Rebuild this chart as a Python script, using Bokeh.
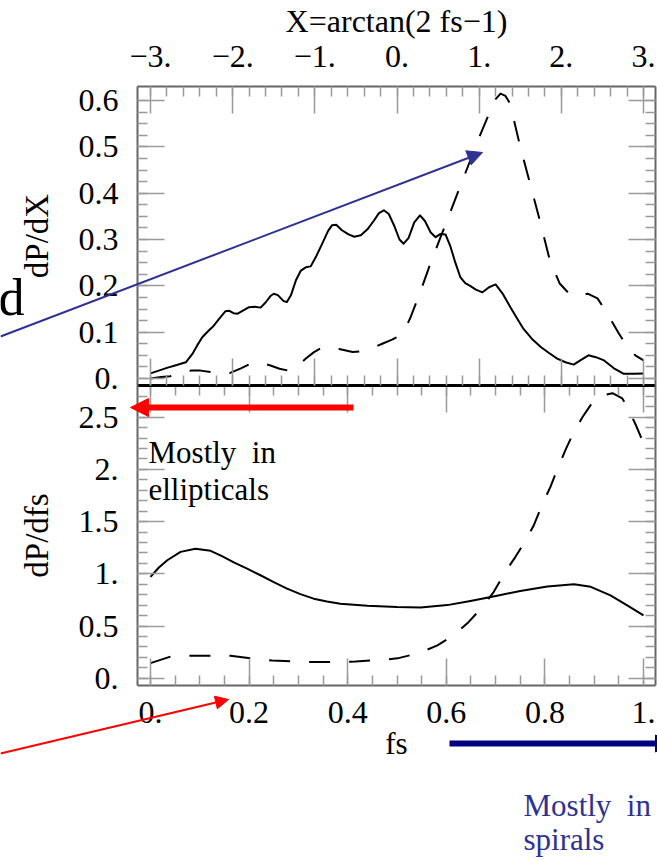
from bokeh.plotting import figure
from bokeh.models import Range1d, LinearAxis, FixedTicker, Arrow, NormalHead, Label
from bokeh.embed import file_html
from bokeh.resources import INLINE

# ---------------- data ----------------
# top panel: X = arctan(2 fs - 1)
top_x_solid = [-3.00, -2.90, -2.80, -2.68, -2.57, -2.49, -2.43, -2.37, -2.30, -2.23, -2.16, -2.09,
               -2.04, -1.99, -1.94, -1.87, -1.80, -1.73, -1.66, -1.60, -1.54, -1.50, -1.45, -1.38,
               -1.34, -1.29, -1.23, -1.17, -1.11, -1.05, -0.98, -0.91, -0.84, -0.79, -0.74, -0.67,
               -0.59, -0.52, -0.44, -0.36, -0.28, -0.22, -0.16, -0.10, -0.03, 0.03, 0.08, 0.14,
               0.21, 0.28, 0.34, 0.41, 0.47, 0.53, 0.59, 0.65, 0.71, 0.77, 0.83, 0.89, 0.96, 1.04,
               1.12, 1.20, 1.29, 1.38, 1.46, 1.54, 1.64, 1.75, 1.85, 1.95, 2.05, 2.15, 2.24, 2.33,
               2.42, 2.52, 2.64, 2.76, 2.88, 3.00]
top_y_solid = [0.011, 0.017, 0.023, 0.029, 0.035, 0.053, 0.072, 0.089, 0.102, 0.114, 0.130, 0.145,
               0.146, 0.141, 0.140, 0.147, 0.154, 0.155, 0.153, 0.164, 0.178, 0.183, 0.180, 0.167,
               0.165, 0.180, 0.212, 0.233, 0.240, 0.242, 0.265, 0.291, 0.318, 0.331, 0.332, 0.320,
               0.311, 0.306, 0.309, 0.322, 0.341, 0.357, 0.363, 0.355, 0.328, 0.300, 0.291, 0.303,
               0.337, 0.352, 0.340, 0.315, 0.305, 0.312, 0.311, 0.285, 0.250, 0.219, 0.206, 0.200,
               0.192, 0.186, 0.197, 0.203, 0.182, 0.154, 0.130, 0.107, 0.086, 0.068, 0.055, 0.043,
               0.035, 0.030, 0.040, 0.050, 0.046, 0.039, 0.022, 0.010, 0.010, 0.011]

top_x_dash = [-3.00, -2.87, -2.76, -2.64, -2.51, -2.39, -2.27, -2.15, -2.03, -1.90, -1.78, -1.66,
              -1.54, -1.43, -1.32, -1.22, -1.11, -1.01, -0.91, -0.80, -0.69, -0.54, -0.42, -0.30,
              -0.18, -0.06, 0.04, 0.10, 0.16, 0.28, 0.40, 0.53, 0.65, 0.77, 0.89, 1.01, 1.14,
              1.20, 1.26, 1.32, 1.37, 1.42, 1.50, 1.62, 1.74, 1.86, 1.98, 2.10, 2.22, 2.32, 2.44,
              2.56, 2.70, 2.81, 2.90, 3.00]
top_y_dash = [0.000, 0.003, 0.005, 0.011, 0.017, 0.017, 0.014, 0.011, 0.012, 0.022, 0.032, 0.034,
              0.028, 0.021, 0.017, 0.025, 0.043, 0.057, 0.067, 0.066, 0.063, 0.057, 0.059, 0.066,
              0.075, 0.084, 0.093, 0.108, 0.130, 0.185, 0.245, 0.305, 0.360, 0.415, 0.470, 0.525,
              0.580, 0.603, 0.615, 0.610, 0.595, 0.560, 0.500, 0.420, 0.340, 0.255, 0.205, 0.182,
              0.178, 0.183, 0.173, 0.140, 0.097, 0.067, 0.050, 0.039]

# bottom panel: fs
bot_x_solid = [0.000, 0.017, 0.034, 0.061, 0.091, 0.122, 0.145, 0.169, 0.196, 0.223, 0.250, 0.277,
               0.304, 0.331, 0.358, 0.385, 0.440, 0.500, 0.548, 0.602, 0.649, 0.703, 0.750, 0.805,
               0.859, 0.893, 0.933, 0.967, 1.000]
bot_y_solid = [0.97, 1.06, 1.13, 1.21, 1.24, 1.22, 1.17, 1.11, 1.05, 0.986, 0.92, 0.858, 0.805,
               0.762, 0.735, 0.714, 0.695, 0.681, 0.678, 0.700, 0.740, 0.790, 0.835, 0.878, 0.899,
               0.875, 0.794, 0.698, 0.602]

bot_x_dash = [0.000, 0.041, 0.081, 0.124, 0.162, 0.209, 0.247, 0.294, 0.331, 0.379, 0.416, 0.467,
              0.501, 0.544, 0.582, 0.615, 0.645, 0.673, 0.696, 0.714, 0.724, 0.740, 0.761, 0.777,
              0.797, 0.811, 0.821, 0.842, 0.858, 0.876, 0.899, 0.919, 0.937, 0.957, 0.968, 0.984,
              1.000]
bot_y_dash = [0.144, 0.208, 0.215, 0.215, 0.215, 0.186, 0.170, 0.160, 0.154, 0.154, 0.160, 0.175,
              0.19, 0.24, 0.314, 0.41, 0.537, 0.68, 0.825, 0.97, 1.05, 1.16, 1.32, 1.46, 1.69,
              1.83, 1.95, 2.19, 2.35, 2.50, 2.66, 2.71, 2.73, 2.68, 2.59, 2.43, 2.25]

# tick values and labels
top_x_ticks = [-3, -2, -1, 0, 1, 2, 3]
top_x_labels = ["\u22123.", "\u22122.", "\u22121.", "0.", "1.", "2.", "3."]
top_y_ticks = [0, 0.1, 0.2, 0.3, 0.4, 0.5, 0.6]
top_y_labels = ["0.", "0.1", "0.2", "0.3", "0.4", "0.5", "0.6"]
bot_x_ticks = [0, 0.2, 0.4, 0.6, 0.8, 1]
bot_x_labels = ["0.", "0.2", "0.4", "0.6", "0.8", "1."]
bot_y_ticks = [0, 0.5, 1, 1.5, 2, 2.5]
bot_y_labels = ["0.", "0.5", "1.", "1.5", "2.", "2.5"]

top_x_minor = [round(-3 + 0.2 * i, 3) for i in range(31)]
top_y_minor = [round(0.025 * i, 4) for i in range(25)]
bot_x_minor = [round(0.05 * i, 3) for i in range(21)]
bot_y_minor = [round(0.1 * i, 3) for i in range(28)]

FONT = "Liberation Serif"
FRAME = "#666666"
TICK = "#9a9a9a"
W, H = 657, 860

# ---------------- page geometry (pixels) ----------------
# panel frames: x 137..655 ; top panel y 86..385 ; bottom panel y 385..685
# top panel scale: x=-3 at px 150, 82.17 px/unit ; y=0 at py 378, 463.3 px/unit
# bottom panel scale: x=0 at px 150, 493 px/unit ; y=0 at py 677.7, 104.4 px/unit


def tx(px):
    return -3 + (px - 150) / 82.17


def ty(py):
    return (378 - py) / 463.3


def bx(px):
    return (px - 150) / 493


def by(py):
    return (677.7 - py) / 104.4


p = figure(width=W, height=H, x_range=Range1d(0, W), y_range=Range1d(H, 0),
           x_axis_location=None, y_axis_location=None, output_backend="svg",
           toolbar_location=None, min_border=0, title=None)
p.grid.visible = False
p.outline_line_color = None
p.background_fill_color = "white"
p.border_fill_color = "white"

p.extra_x_ranges = {"tx": Range1d(tx(0), tx(W)), "bx": Range1d(bx(0), bx(W))}
p.extra_y_ranges = {"ty": Range1d(ty(H), ty(0)), "by": Range1d(by(H), by(0))}


def style_ticks(ax, major_in, minor_in):
    ax.major_tick_in = major_in
    ax.major_tick_out = 0
    ax.minor_tick_in = minor_in
    ax.minor_tick_out = 0
    ax.major_tick_line_color = TICK
    ax.major_tick_line_width = 1.5
    ax.minor_tick_line_color = TICK
    ax.minor_tick_line_width = 1.5


def labeled_axis(side, xr, yr, loc, bounds, ticks, minor, labels, title, standoff,
                 title_standoff, title_size, line_color=FRAME, line_width=2):
    ax = LinearAxis(ticker=FixedTicker(ticks=ticks, minor_ticks=minor),
                    x_range_name=xr, y_range_name=yr, fixed_location=loc, bounds=bounds)
    style_ticks(ax, 27, 10)
    ax.axis_line_color = line_color
    ax.axis_line_width = line_width
    ax.major_label_overrides = dict(zip(ticks, labels))
    ax.major_label_text_font = FONT
    ax.major_label_text_font_size = "32px"
    ax.major_label_text_color = "black"
    ax.major_label_standoff = standoff
    ax.axis_label = title
    ax.axis_label_text_font = FONT
    ax.axis_label_text_font_style = "normal"
    ax.axis_label_text_font_size = title_size
    ax.axis_label_text_color = "black"
    ax.axis_label_standoff = title_standoff
    p.add_layout(ax, side)


def mirror_axis(side, xr, yr, loc, bounds, ticks, minor, line_color=FRAME, line_width=2):
    # long marks at the major positions (drawn as label-less minor ticks)
    a1 = LinearAxis(ticker=FixedTicker(ticks=[], minor_ticks=ticks),
                    x_range_name=xr, y_range_name=yr, fixed_location=loc, bounds=bounds)
    style_ticks(a1, 27, 27)
    a1.axis_line_color = line_color
    a1.axis_line_width = line_width
    p.add_layout(a1, side)
    a2 = LinearAxis(ticker=FixedTicker(ticks=[], minor_ticks=minor),
                    x_range_name=xr, y_range_name=yr, fixed_location=loc, bounds=bounds)
    style_ticks(a2, 10, 10)
    a2.axis_line_color = None
    p.add_layout(a2, side)


# ---- top panel frame ----
T_L, T_R, T_T, T_B = tx(137), tx(655), ty(86), ty(385)
labeled_axis("above", "tx", "ty", T_T, (T_L, T_R), top_x_ticks, top_x_minor, top_x_labels,
             "X=arctan(2 fs\u22121)", 20, 4, "32px")
labeled_axis("left", "tx", "ty", T_L, (T_B, T_T), top_y_ticks, top_y_minor, top_y_labels,
             "dP/dX", 19, 21, "33px")
mirror_axis("below", "tx", "ty", T_B, (T_L, T_R), top_x_ticks, top_x_minor,
            line_color="black", line_width=3)
mirror_axis("right", "tx", "ty", T_R, (T_B, T_T), top_y_ticks, top_y_minor)

# ---- bottom panel frame ----
B_L, B_R, B_T, B_B = bx(137), bx(655), by(385), by(685)
labeled_axis("below", "bx", "by", B_B, (B_L, B_R), bot_x_ticks, bot_x_minor, bot_x_labels,
             "fs", 16, 0, "31px")
labeled_axis("left", "bx", "by", B_L, (B_B, B_T), bot_y_ticks, bot_y_minor, bot_y_labels,
             "dP/dfs", 19, 21, "33px")
mirror_axis("above", "bx", "by", B_T, (B_L, B_R), bot_x_ticks, bot_x_minor,
            line_color="black", line_width=3)
mirror_axis("right", "bx", "by", B_R, (B_B, B_T), bot_y_ticks, bot_y_minor)

# ---- curves ----
p.line(top_x_solid, top_y_solid, x_range_name="tx", y_range_name="ty",
       line_color="black", line_width=2, line_join="round")
p.line(top_x_dash, top_y_dash, x_range_name="tx", y_range_name="ty",
       line_color="black", line_width=2, line_dash="21 19", line_join="round")
p.line(bot_x_solid, bot_y_solid, x_range_name="bx", y_range_name="by",
       line_color="black", line_width=2, line_join="round")
p.line(bot_x_dash, bot_y_dash, x_range_name="bx", y_range_name="by",
       line_color="black", line_width=2, line_dash="21 19", line_join="round")

# ---- slide annotations (page pixel coordinates) ----
BLUE = "#2e3192"
RED = "#ff0000"
NAVY = "#000080"
p.add_layout(Arrow(end=NormalHead(size=15, fill_color=BLUE, line_color=BLUE),
                   x_start=0, y_start=336, x_end=482, y_end=152,
                   line_color=BLUE, line_width=2))
p.add_layout(Arrow(end=NormalHead(size=18, fill_color=RED, line_color=RED),
                   x_start=353, y_start=407, x_end=130, y_end=407,
                   line_color=RED, line_width=6))
p.add_layout(Arrow(end=NormalHead(size=13, fill_color=RED, line_color=RED),
                   x_start=0, y_start=753, x_end=228, y_end=699,
                   line_color=RED, line_width=2))
p.add_layout(Arrow(end=NormalHead(size=17, fill_color=NAVY, line_color=NAVY),
                   x_start=449, y_start=743, x_end=672, y_end=743,
                   line_color=NAVY, line_width=6))

for txt, x, y, col, size in [
    ("d", -2, 297, "black", "52px"),
    ("Mostly\u00a0 in", 148, 452, "black", "31px"),
    ("ellipticals", 148, 489, "black", "31px"),
    ("Mostly\u00a0 in", 523, 805, BLUE, "31px"),
    ("spirals", 523, 839, BLUE, "31px"),
]:
    p.add_layout(Label(x=x, y=y, text=txt, text_font=FONT, text_font_size=size,
                       text_color=col, text_baseline="alphabetic", text_align="left"))

open("out.html", "w").write(file_html(p, INLINE))
